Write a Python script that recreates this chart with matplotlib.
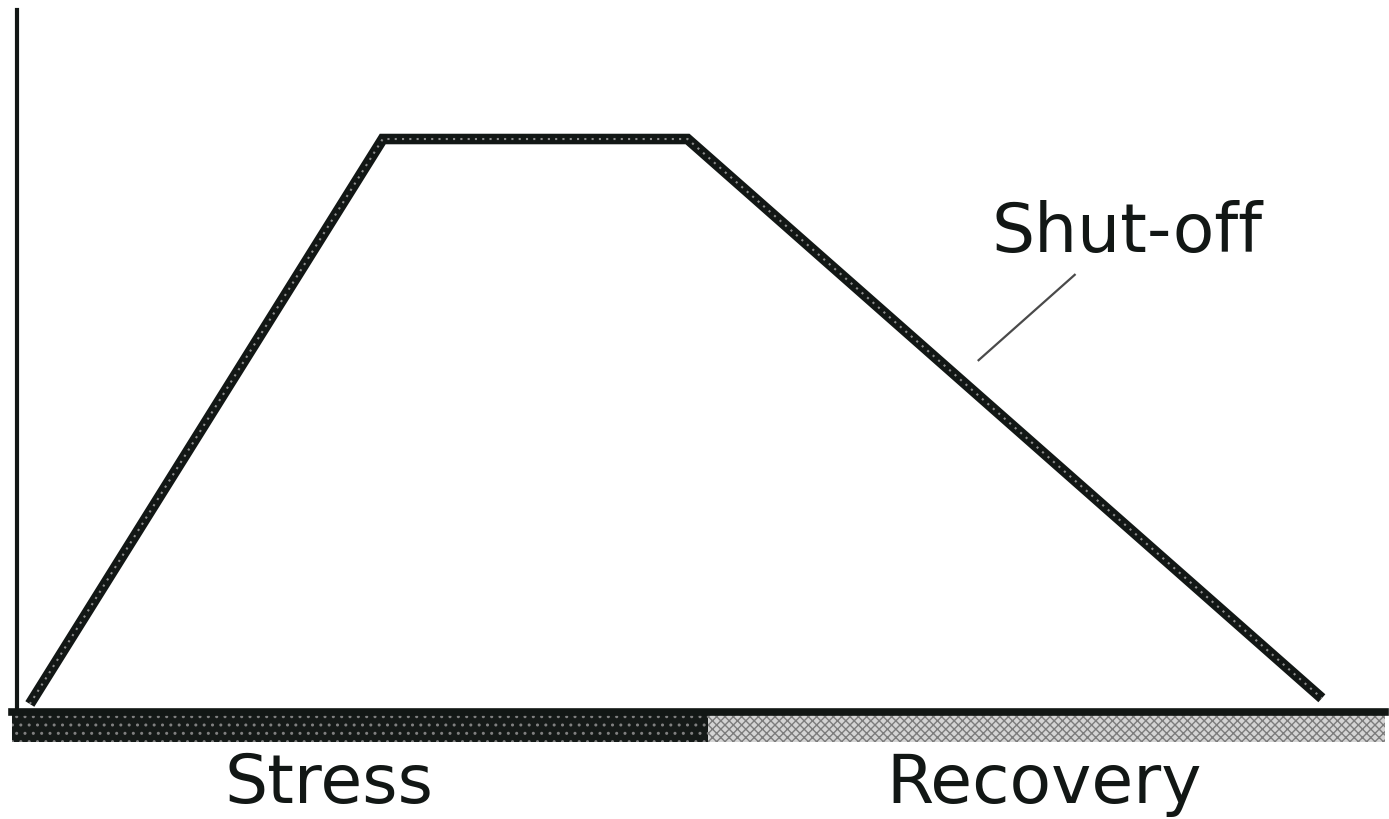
#!/usr/bin/python3

import matplotlib
matplotlib.use('Agg')
import matplotlib.pyplot as plt

# response curve (time, level)
curve_t = [1.3, 27.0, 49.2, 95.4]
curve_y = [1.4, 100, 100, 2.4]

# phases shown in the bottom bar
phases = ['Stress', 'Recovery']
phase_start = [0, 50.7]
phase_len = [50.7, 49.3]
phase_face = ['#151a18', '#d4d4d4']
phase_hatch = ['#808080', '#7c7c7c']
phase_hatch_style = ['..', 'xxxx']
label_x = [23.1, 75.2]

# pointer to the falling branch
pointer_t = [70.4, 77.4]
pointer_y = [61.4, 76.3]
shutoff_label = 'Shut-off'

INK = '#121715'
FONT = 'DejaVu Sans'

if __name__ == '__main__':

    plt.rcParams['hatch.linewidth'] = 1.0

    fig = plt.figure(figsize=(13.89, 8.19), dpi=100)
    ax = fig.add_axes([0, 0, 1, 1])
    ax.set_xlim(-0.874, 100.29)
    ax.set_ylim(-18.67, 124.26)

    # bottom bar with the two phases
    for start, length, face, hcol, hst in zip(phase_start, phase_len, phase_face,
                                              phase_hatch, phase_hatch_style):
        ax.bar(start, -5.3, width=length, bottom=0, align='edge',
               color=face, edgecolor=hcol, hatch=hst, linewidth=0, zorder=1)

    # axes lines
    for s in ['top', 'right']:
        ax.spines[s].set_visible(False)
    ax.spines['bottom'].set_position(('data', 0))
    ax.spines['bottom'].set_bounds(0, 100)
    ax.spines['bottom'].set_linewidth(5.5)
    ax.spines['bottom'].set_color(INK)
    ax.spines['bottom'].set_zorder(3)
    ax.spines['left'].set_position(('data', 0.36))
    ax.spines['left'].set_bounds(0, 122.5)
    ax.spines['left'].set_linewidth(3)
    ax.spines['left'].set_color(INK)
    ax.set_xticks([])
    ax.set_yticks([])

    # curve: thick dark line with halftone speckle
    ax.plot(curve_t, curve_y, color=INK, linewidth=7.6,
            solid_joinstyle='miter', solid_capstyle='butt', zorder=4)
    ax.plot(curve_t, curve_y, color='#8c8c8c', linewidth=1.5,
            linestyle=(0, (1, 2.5)), zorder=5)

    # shut-off label and pointer
    ax.plot(pointer_t, pointer_y, color='#4a4a4a', linewidth=1.6, zorder=4)
    ax.text(81.2, 80.3, shutoff_label, fontsize=49, family=FONT, color=INK,
            ha='center', va='baseline')

    for name, x in zip(phases, label_x):
        ax.text(x, -15.9, name, fontsize=49, family=FONT, color=INK,
                ha='center', va='baseline')

    fig.savefig('out.png', dpi=100)
    plt.close(fig)
